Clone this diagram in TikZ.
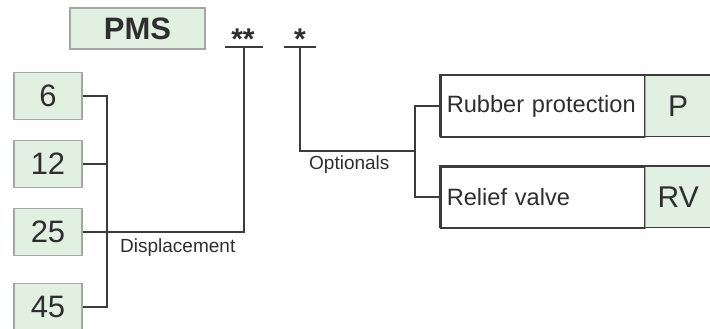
\documentclass[tikz,border=0pt]{standalone}
\usepackage{fontspec}
\setmainfont{Liberation Sans}
\usetikzlibrary{positioning}
\definecolor{boxgreen}{HTML}{E2F0E2}
\definecolor{boxgray}{HTML}{A6A6A6}
\definecolor{linedark}{HTML}{3C3C3C}
\definecolor{txtdark}{HTML}{2E2E2E}
\tikzset{
  valbox/.style={draw=boxgray, line width=1.3pt, fill=boxgreen, minimum width=68pt, minimum height=47pt, inner sep=0pt, text=txtdark, font=\fontsize{31}{33}\selectfont},
  optbox/.style={draw=linedark, line width=1.5pt, fill=white, minimum height=61pt, inner xsep=6pt, inner ysep=0pt, text width=192pt, align=left, anchor=north west, text=txtdark, font=\fontsize{23.6}{25}\selectfont},
  codebox/.style={fill=boxgreen, minimum width=65pt, minimum height=61pt, inner sep=0pt, anchor=north west, text=txtdark, font=\fontsize{30}{32}\selectfont},
  lbl/.style={text=txtdark, inner sep=0pt, font=\fontsize{19}{21}\selectfont},
  wire/.style={draw=linedark, line width=1.6pt}
}
\begin{document}
\begin{tikzpicture}[x=1pt,y=-1pt]
\useasboundingbox (0,0) rectangle (710,329);
\node[valbox, minimum width=135pt, minimum height=41pt, font=\fontsize{31}{33}\selectfont\bfseries] (pms) at (137.5,28.5) {PMS};
\node[valbox] (v6) at (48,96) {6};
\node[valbox] (v12) at (48,164) {12};
\node[valbox] (v25) at (48,232) {25};
\node[valbox] (v45) at (48,307) {45};
\coordinate (dtrunk) at (107,0);
\coordinate (dbar) at (244,47);
\coordinate (obar) at (300,47);
\coordinate (obranch) at (415,151);
\node[lbl, font=\fontsize{30}{32}\selectfont\bfseries] (dstar) at (243,39) {**};
\node[lbl, font=\fontsize{30}{32}\selectfont\bfseries] (ostar) at (300,39) {*};
\node[optbox] (rp) at (440,75) {Rubber protection};
\node[codebox] (rpcode) at (rp.north east) {P};
\node[optbox] (rv) at (440,166) {Relief valve};
\node[codebox] (rvcode) at (rv.north east) {RV};
\draw[draw=boxgray, line width=1.3pt] (rp.north east) -- (rp.south east) (rv.north east) -- (rv.south east);
\draw[draw=linedark, line width=1.5pt] (rp.north west) rectangle (rpcode.south east);
\draw[draw=linedark, line width=1.5pt] (rv.north west) rectangle (rvcode.south east);
% displacement
\draw[wire] (v6.east) -- (v6.east -| dtrunk) -- (v45.east -| dtrunk) -- (v45.east);
\draw[wire] (v12.east) -- (v12.east -| dtrunk);
\draw[wire] (v25.east) -| (dbar);
\draw[wire] ([xshift=-19pt]dbar) -- ([xshift=19pt]dbar);
\node[lbl, anchor=west] (disp) at (120,248) {Displacement};
% optionals
\draw[wire] ([xshift=-16pt]obar) -- ([xshift=16pt]obar);
\draw[wire] (obar) |- (obranch);
\draw[wire] (rp.west) -| (obranch) |- (rv.west);
\node[lbl, anchor=west] (opt) at (309,165) {Optionals};
\end{tikzpicture}
\end{document}
